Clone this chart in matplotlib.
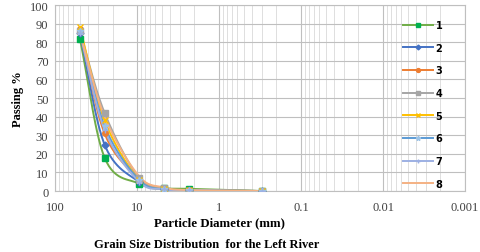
import numpy as np
import matplotlib
matplotlib.use("Agg")
import matplotlib.pyplot as plt
from matplotlib.ticker import FixedLocator, FixedFormatter, LogLocator, NullFormatter

# -------------------------
# Data
# -------------------------
sieve_mm = [50, 25, 9.5, 4.75, 2.36, 0.3]

series_names = ["1", "2", "3", "4", "5", "6", "7", "8"]
pass_1 = [82, 18, 4, 1.5, 1.2, 0]
pass_2 = [85, 25, 5, 1, 0.5, 0]
pass_3 = [87, 31, 7, 1.5, 0.5, 0]
pass_4 = [86, 42, 7, 1.5, 0, 0]
pass_5 = [88, 38, 6, 1, 0.5, 0]
pass_6 = [86, 35, 6, 1, 0.5, 0]
pass_7 = [85, 33, 5, 1, 0.5, 0]
pass_8 = [85, 40, 8, 2, 0.5, 0]
all_pass = [pass_1, pass_2, pass_3, pass_4, pass_5, pass_6, pass_7, pass_8]

line_colors = ["#70AD47", "#4472C4", "#ED7D31", "#A5A5A5",
               "#FFC000", "#5B9BD5", "#9DB0E3", "#F4B183"]
marker_colors = ["#00B050", "#4472C4", "#ED7D31", "#A5A5A5",
                 "#FFC000", "#9DC3E6", "#9DB0E3", "#F4B183"]
markers = ["s", "D", "o", "s", "x", "*", "+", None]
marker_sizes = [5, 3.5, 4, 5, 5, 5, 5, 0]

x_ticks = [100, 10, 1, 0.1, 0.01, 0.001]
x_tick_labels = ["100", "10", "1", "0.1", "0.01", "0.001"]


def smooth(x, y, n=30):
    # Excel-like smoothed line: Catmull-Rom spline in log-x space
    lx = np.log10(np.array(x, float))
    yy = np.array(y, float)
    px = np.concatenate([[2 * lx[0] - lx[1]], lx, [2 * lx[-1] - lx[-2]]])
    py = np.concatenate([[2 * yy[0] - yy[1]], yy, [2 * yy[-1] - yy[-2]]])
    out_x, out_y = [], []
    t = np.linspace(0, 1, n)
    for i in range(1, len(px) - 2):
        for arr, out in ((px, out_x), (py, out_y)):
            p0, p1, p2, p3 = arr[i - 1], arr[i], arr[i + 1], arr[i + 2]
            m1 = (p2 - p0) / 2
            m2 = (p3 - p1) / 2
            h00 = 2 * t**3 - 3 * t**2 + 1
            h10 = t**3 - 2 * t**2 + t
            h01 = -2 * t**3 + 3 * t**2
            h11 = t**3 - t**2
            out.extend(h00 * p1 + h10 * m1 + h01 * p2 + h11 * m2)
    return 10 ** np.array(out_x), np.array(out_y)


# -------------------------
# Plot
# -------------------------
fig = plt.figure(figsize=(4.8, 2.53), dpi=100)
ax = fig.add_axes([0.115, 0.241, 0.854, 0.735])

for i, vals in enumerate(all_pass):
    sx, sy = smooth(sieve_mm, vals)
    ax.plot(sx, sy, color=line_colors[i], lw=1.4, zorder=3)
    mk = markers[i]
    ax.plot(sieve_mm, vals, linestyle="none", marker=mk if mk else "",
            ms=marker_sizes[i], color=marker_colors[i],
            mec=marker_colors[i], zorder=4)
    # legend proxy
    ax.plot([], [], color=line_colors[i], lw=1.4, marker=mk if mk else "",
            ms=marker_sizes[i] * 0.7, mfc=marker_colors[i],
            mec=marker_colors[i], label=series_names[i])

ax.set_xscale("log")
ax.set_xlim(100, 0.001)
ax.set_ylim(0, 100)
ax.xaxis.set_major_locator(FixedLocator(x_ticks))
ax.xaxis.set_major_formatter(FixedFormatter(x_tick_labels))
ax.xaxis.set_minor_locator(LogLocator(base=10, subs=np.arange(2, 10)))
ax.xaxis.set_minor_formatter(NullFormatter())
ax.set_yticks(range(0, 101, 10))

ax.grid(True, which="major", color="#BFBFBF", lw=0.8)
ax.grid(True, which="minor", axis="x", color="#D9D9D9", lw=0.6)
ax.set_axisbelow(True)
ax.tick_params(which="both", length=0, labelsize=9, colors="#404040")
ax.tick_params(axis="x", pad=7)
ax.tick_params(axis="y", pad=5)
for lab in ax.get_xticklabels() + ax.get_yticklabels():
    lab.set_family("Liberation Serif")
for s in ax.spines.values():
    s.set_color("#BFBFBF")
    s.set_linewidth(0.8)

ax.set_ylabel("Passing %", family="Liberation Serif",
              fontweight="bold", fontsize=9, labelpad=4)
fig.text(0.458, 0.118, "Particle Diameter (mm)", family="Liberation Serif",
         fontweight="bold", fontsize=9.3, ha="center", va="center")

leg = ax.legend(loc="upper left", bbox_to_anchor=(0.84, 0.94), frameon=False,
                fontsize=7, labelspacing=1.3, handlelength=3.0,
                handletextpad=0.3, borderaxespad=0)
for t in leg.get_texts():
    t.set_fontweight("bold")

fig.text(0.43, 0.032, "Grain Size Distribution  for the Left River",
         family="Liberation Serif", fontweight="bold", fontsize=9,
         ha="center", va="center")

fig.savefig("out.png", dpi=100)
